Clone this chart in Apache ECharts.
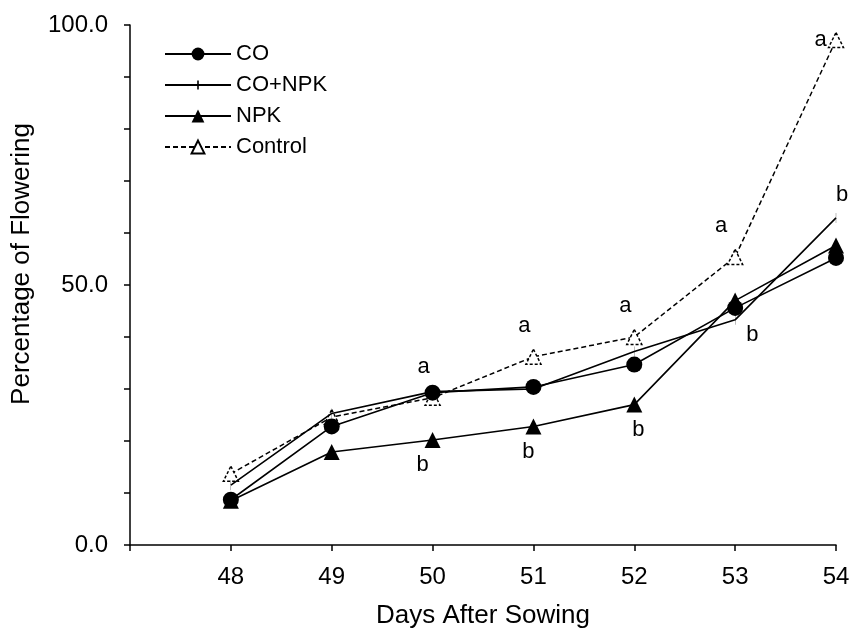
<!DOCTYPE html>
<html>
<head>
<meta charset="utf-8">
<script src="https://cdn.jsdelivr.net/npm/echarts@6/dist/echarts.min.js"></script>
<style>
  html, body { margin: 0; padding: 0; background: #fff; }
  #chart { width: 853px; height: 630px; }
</style>
</head>
<body>
<div id="chart"></div>
<script>
// days after sowing
var days = [48, 49, 50, 51, 52, 53, 54];

// percentage of flowering per treatment
var co = [8.7, 22.8, 29.3, 30.4, 34.7, 45.6, 55.2];
var coNpk = [11.5, 25.3, 29.5, 30.0, 37.2, 43.3, 62.9];
var npk = [8.5, 17.9, 20.2, 22.8, 27.0, 47.0, 57.6];
var control = [13.7, 24.6, 28.3, 36.2, 40.0, 55.4, 97.1];

// significance letters
var controlLetters = ['', '', 'a', 'a', 'a', 'a', 'a'];
var npkLetters = ['', '', 'b', 'b', 'b', '', ''];
var coNpkLetters = ['', '', '', '', '', 'b', 'b'];

var yTicks = [0, 50, 100];

var FONT = 'Liberation Sans, Arial, sans-serif';
var plusPath = 'path://M0,0 L1.6,0 L1.6,10 L0,10 Z';
// legend icon: line with a small vertical tick in the middle
var plusLegendIcon = 'path://M0,0 L0.01,0 L0,0.01 Z M0,16 L0.01,16 L0,15.99 Z ' +
  'M0,7.1 L66,7.1 L66,8.9 L0,8.9 Z M32.2,3.5 L33.8,3.5 L33.8,12.5 L32.2,12.5 Z';

function toData(vals, letters, labelFor) {
  return vals.map(function (v, i) {
    var item = { value: [days[i], v] };
    if (letters && letters[i]) {
      item.label = Object.assign({
        show: true,
        formatter: letters[i],
        color: '#000',
        fontSize: 22,
        fontFamily: FONT
      }, labelFor(i));
    }
    return item;
  });
}

var chart = echarts.init(document.getElementById('chart'));

chart.setOption({
  backgroundColor: '#fff',
  animation: false,
  textStyle: { fontFamily: FONT },
  grid: { left: 130, right: 17, top: 25, bottom: 85, outerBoundsMode: 'none', containLabel: false },
  legend: {
    orient: 'vertical',
    left: 159,
    top: 38,
    itemWidth: 66,
    itemHeight: 16,
    itemGap: 9,
    textStyle: { color: '#000', fontSize: 22, fontFamily: FONT },
    data: [
      { name: 'CO' },
      { name: 'CO+NPK', icon: plusLegendIcon },
      { name: 'NPK' },
      { name: 'Control' }
    ]
  },
  xAxis: {
    type: 'value',
    min: 47,
    max: 54,
    interval: 1,
    name: 'Days After Sowing',
    nameLocation: 'middle',
    nameGap: 58,
    nameTextStyle: { color: '#000', fontSize: 26, fontFamily: FONT },
    axisLine: { lineStyle: { color: '#000', width: 1.5 } },
    axisTick: { show: true, length: 6, lineStyle: { color: '#000', width: 1.5 } },
    axisLabel: {
      color: '#000', fontSize: 24, fontFamily: FONT, margin: 20,
      formatter: function (v) { return v === 47 ? '' : String(v); }
    },
    splitLine: { show: false }
  },
  yAxis: {
    type: 'value',
    min: 0,
    max: 100,
    interval: 10,
    name: 'Percentage of Flowering',
    nameLocation: 'middle',
    nameGap: 95,
    nameTextStyle: { color: '#000', fontSize: 26, fontFamily: FONT, padding: [0, 0, 0, 42] },
    axisLine: { show: true, lineStyle: { color: '#000', width: 1.5 } },
    axisTick: { show: true, length: 6, lineStyle: { color: '#000', width: 1.5 } },
    axisLabel: {
      color: '#000', fontSize: 24, fontFamily: FONT, margin: 22,
      formatter: function (v) { return yTicks.indexOf(v) >= 0 ? v.toFixed(1) : ''; }
    },
    splitLine: { show: false }
  },
  series: [
    {
      name: 'CO',
      type: 'line',
      symbol: 'circle',
      symbolSize: 16,
      lineStyle: { color: '#000', width: 1.6 },
      itemStyle: { color: '#000' },
      z: 3,
      data: toData(co)
    },
    {
      name: 'CO+NPK',
      type: 'line',
      symbol: plusPath,
      symbolKeepAspect: true,
      symbolSize: [1.6, 10],
      lineStyle: { color: '#000', width: 1.6 },
      itemStyle: { color: '#000' },
      z: 3,
      data: toData(coNpk, coNpkLetters, function (i) {
        if (i === 6) return { position: 'top', distance: 7, offset: [6, 0] };
        return { position: 'right', distance: 11, offset: [0, 15] };
      })
    },
    {
      name: 'NPK',
      type: 'line',
      symbol: 'triangle',
      symbolSize: 16,
      lineStyle: { color: '#000', width: 1.6 },
      itemStyle: { color: '#000' },
      z: 3,
      data: toData(npk, npkLetters, function (i) {
        var dx = [0, 0, -10, -5, 4][i];
        return { position: 'bottom', distance: 6, offset: [dx, 0] };
      })
    },
    {
      name: 'Control',
      type: 'line',
      symbol: 'triangle',
      symbolSize: 15,
      lineStyle: { color: '#000', width: 1.5, type: [5, 3] },
      itemStyle: { color: '#fff', borderColor: '#000', borderWidth: 1.5, borderType: [3, 2] },
      z: 2,
      data: toData(control, controlLetters, function (i) {
        if (i === 6) return { position: 'left', distance: 1 };
        return { position: 'top', distance: 12, offset: [i === 5 ? -14 : -9, 0] };
      })
    }
  ]
});
</script>
</body>
</html>
